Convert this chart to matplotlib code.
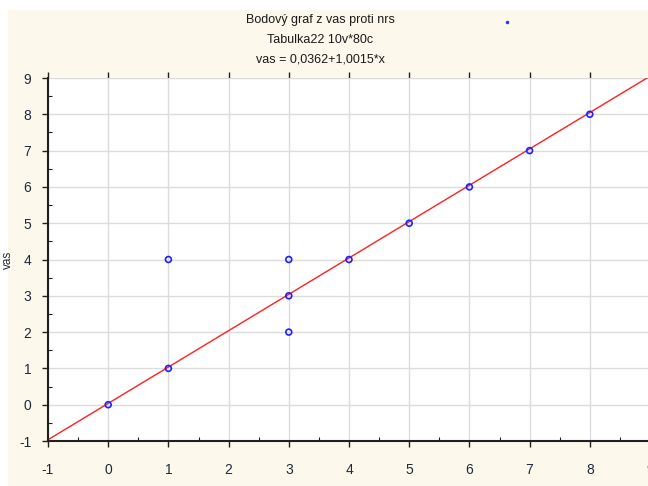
import numpy as np
import matplotlib.pyplot as plt
from matplotlib.patches import Rectangle
from matplotlib.ticker import MultipleLocator

# scatter data: nrs vs vas
nrs = [0, 1, 1, 3, 3, 3, 4, 5, 6, 7, 8]
vas = [0, 1, 4, 2, 3, 4, 4, 5, 6, 7, 8]
# linear fit vas = a + b*x
fit_a = 0.0362
fit_b = 1.0015

title_lines = ["Bodový graf z vas proti nrs", "Tabulka22 10v*80c", "vas = 0,0362+1,0015*x"]

plt.rcParams['font.family'] = ['Liberation Sans', 'DejaVu Sans']
plt.rcParams['axes.unicode_minus'] = False

fig = plt.figure(figsize=(6.48, 4.86), dpi=100)
fig.patch.set_facecolor('white')
bg = '#fdf8ec'
fig.patches.append(Rectangle((8/648, 0), 1, 1 - 10/486, transform=fig.transFigure,
                             facecolor=bg, edgecolor='none', zorder=-10))

ax = fig.add_axes([48/648, 45/486, 602/648, 363/486])
ax.set_facecolor('white')
ax.set_xlim(-1, 9)
ax.set_ylim(-1, 9)
ax.xaxis.set_major_locator(MultipleLocator(1))
ax.yaxis.set_major_locator(MultipleLocator(1))
ax.xaxis.set_minor_locator(MultipleLocator(0.5))
ax.yaxis.set_minor_locator(MultipleLocator(0.5))
ax.grid(True, which='major', color='#dcdcdc', linewidth=1)
ax.set_axisbelow(True)

for s in ['top', 'right']:
    ax.spines[s].set_visible(False)
for s in ['left', 'bottom']:
    ax.spines[s].set_linewidth(1.5)
    ax.spines[s].set_color('#202020')

ax.tick_params(which='major', direction='out', length=4, width=1, colors='#202020',
               labelsize=10, top=True)
ax.tick_params(which='minor', direction='in', length=3, width=0.8, colors='#202020')
for lab in ax.get_xticklabels() + ax.get_yticklabels():
    lab.set_color('#1e2a3a')
ax.tick_params(axis='x', pad=12)
ax.tick_params(axis='y', pad=8)

xs = np.array([-1, 9])
ax.plot(xs, fit_a + fit_b * xs, color='#ff2020', linewidth=1, zorder=2)
ax.scatter(nrs, vas, s=18, facecolors='none', edgecolors='#2020ff', linewidths=1.2,
           zorder=3, clip_on=False)

ax.set_xlabel('nrs', fontsize=8.5, color='#1e2a3a', labelpad=10)
ax.yaxis.set_label_coords(-34/602, 0.5)
ax.set_ylabel('vas', fontsize=8.5, color='#1e2a3a')

for i, t in enumerate(title_lines):
    fig.text(320/648, 1 - (20 + i * 20) / 486, t, ha='center', va='center',
             fontsize=9, color='#1a1a1a')
fig.lines.append(plt.Line2D([507/648], [1 - 22/486], transform=fig.transFigure,
                            marker='o', markersize=1.5, color='#3030ff', linestyle='none'))

fig.savefig('out.png', dpi=100, facecolor=fig.get_facecolor())
